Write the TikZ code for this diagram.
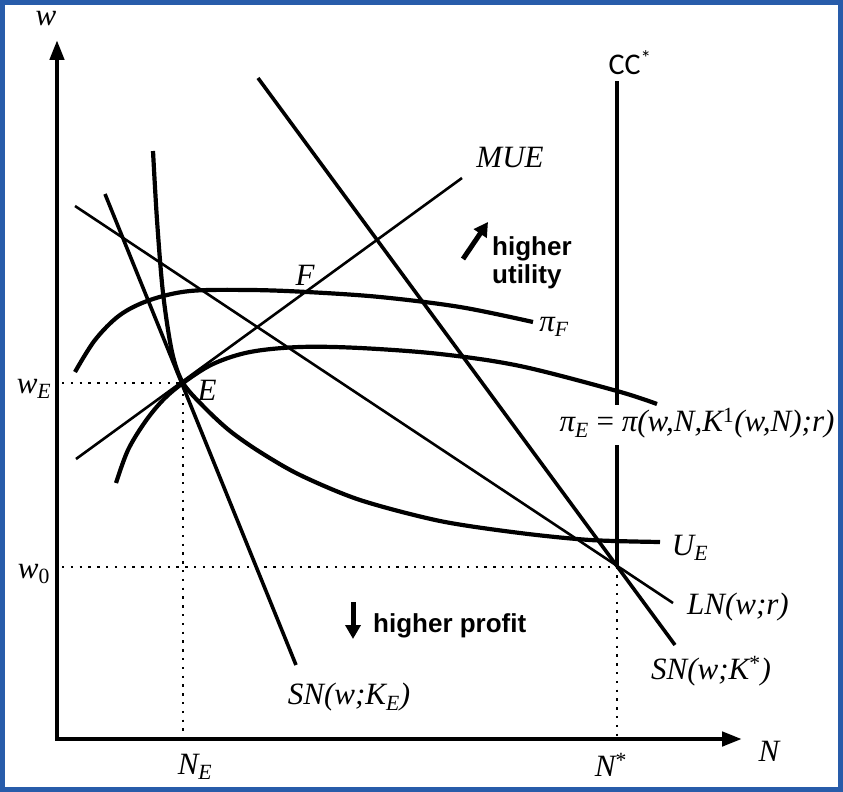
\documentclass[tikz,border=0pt]{standalone}
\usepackage{fontspec}
\newfontfamily\sansbf{Liberation Sans}
\newfontfamily\labfont{Liberation Serif}
\newfontfamily\ccfont{Carlito}
\usetikzlibrary{arrows.meta}
\definecolor{frameblue}{RGB}{40,92,170}
\newcommand{\sbs}[1]{\textsubscript{#1}}
\newcommand{\sps}[1]{\textsuperscript{\upshape #1}}
\begin{document}
\begin{tikzpicture}[x=1pt,y=-1pt,
  axis/.style={line width=4.5pt,line join=miter},
  thickcurve/.style={line width=4.2pt},
  midline/.style={line width=3.6pt},
  thinline/.style={line width=2.6pt},
  dots/.style={line width=2.4pt,dash pattern=on 2.4pt off 6.4pt},
  lab/.style={font=\labfont\itshape\fontsize{31}{33}\selectfont,inner sep=0pt},
  boldlab/.style={font=\sansbf\bfseries\fontsize{26}{22}\selectfont,inner sep=0pt,anchor=base west},
  bigarrow/.style={line width=5pt,-{Triangle[length=14pt,width=15pt]}}
]
\useasboundingbox (0,0) rectangle (843,792);
\draw[frameblue,line width=5pt] (2.5,2.5) rectangle (840.5,789.5);

% key points
\coordinate (O) at (57,739);
\coordinate (Ytip) at (57,40);
\coordinate (Xtip) at (742,739);
\coordinate (E) at (183,383);
\coordinate (Ns) at (617,567);
\coordinate (wEax) at (62,383);
\coordinate (NEax) at (183,737);
\coordinate (w0ax) at (62,567);
\coordinate (Nsax) at (617,737);

% axes
\draw[axis,{Triangle[length=20pt,width=14pt]}-{Triangle[length=20pt,width=14pt]}] (Ytip) -- (O) -- (Xtip);

% dotted guides
\draw[dots] (wEax) -- (E) -- (NEax);
\draw[dots] (w0ax) -- (Ns) -- (Nsax);

% CC* line with gap
\coordinate (CCtop) at (617,81);
\coordinate (CCgap1) at (617,405);
\coordinate (CCgap2) at (617,445);
\draw[midline] (CCtop) -- (CCgap1);
\draw[midline] (CCgap2) -- (Ns);

% straight lines
\coordinate (MUE0) at (76,459);
\coordinate (MUE1) at (462,178);
\draw[thinline] (MUE0) -- (MUE1);
\coordinate (LN0) at (75,206);
\coordinate (LN1) at (673,603);
\draw[thinline] (LN0) -- (LN1);
\coordinate (SNs0) at (258,78);
\coordinate (SNs1) at (675,645);
\draw[midline] (SNs0) -- (SNs1);
\coordinate (SNE0) at (105,194);
\coordinate (SNE1) at (296,665);
\draw[midline] (SNE0) -- (SNE1);

% curves
\draw[thickcurve] plot[smooth,tension=0.5] coordinates {(153,151) (157,220) (163,293) (172,352) (183,383) (205,408) (230,431) (260,452) (300,475) (360,500) (440,521) (520,533) (590,540) (660,542)};
\draw[thickcurve] plot[smooth,tension=0.55] coordinates {(75,372) (95,340) (120,315) (150,300) (190,291) (250,290) (307,292) (380,297) (460,307) (533,322)};
\draw[thickcurve] plot[smooth,tension=0.55] coordinates {(116,483) (128,450) (145,422) (163,400) (183,383) (213,364) (250,352) (300,347) (360,348) (440,354) (520,366) (617,391) (657,404)};

% labels
\node[lab] (wlab) at (46,19) {w};
\node[lab] (wE) at (34,389) {w\sbs{E}};
\node[lab] (w0) at (34,574) {w\sbs{\upshape 0}};
\node[lab] (NE) at (195,767) {N\sbs{E}};
\node[lab] (Nst) at (611,765) {N\sps{*}};
\node[lab] (Nlab) at (769,751) {N};
\node[font=\ccfont\fontsize{30}{32}\selectfont,inner sep=0pt] (CC) at (630,63) {CC\textsuperscript{*}};
\node[lab] (MUE) at (510,158) {MUE};
\node[lab] (F) at (305,275) {F};
\node[lab] (Elab) at (207,390) {E};
\node[lab] (piF) at (554,327) {π\sbs{F}};
\node[lab] (piE) at (697,423) {π\sbs{E} {\upshape=} π(w,N,K\sps{1}(w,N);r)};
\node[lab] (UE) at (690,548) {U\sbs{E}};
\node[lab] (LN) at (738,607) {LN(w;r)};
\node[lab] (SNs) at (711,671) {SN(w;K\sps{*})};
\node[lab] (SNE) at (349,697) {SN(w;K\sbs{E})};

\node[boldlab] (hu1) at (492,255) {higher};
\node[boldlab] (hu2) at (492,283) {utility};
\node[boldlab] (hp) at (373,632) {higher profit};

\coordinate (ua0) at (463,259);
\coordinate (ua1) at (488,222);
\draw[bigarrow] (ua0) -- (ua1);
\coordinate (da0) at (353,602);
\coordinate (da1) at (353,639);
\draw[bigarrow] (da0) -- (da1);
\end{tikzpicture}
\end{document}
